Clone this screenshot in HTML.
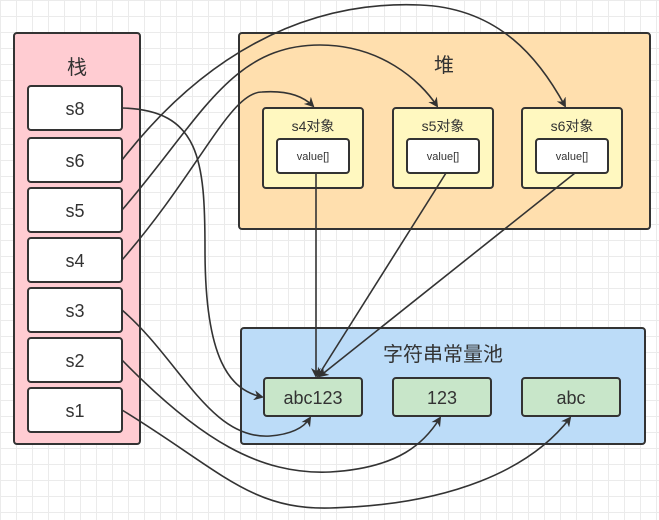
<!DOCTYPE html>
<html><head><meta charset="utf-8"><style>
body{margin:0;width:659px;height:515px;overflow:hidden;background:#fff;
background-image:linear-gradient(#ebebeb 1px,transparent 1px),linear-gradient(90deg,#ebebeb 1px,transparent 1px);background-size:16px 16px;}
svg text{font-family:"Liberation Sans","Noto Sans CJK SC",sans-serif;fill:#333;text-anchor:middle;}
</style></head><body>
<svg width="659" height="515" xmlns="http://www.w3.org/2000/svg">
<defs><marker id="a" markerWidth="10" markerHeight="10" refX="8" refY="5" orient="auto" markerUnits="userSpaceOnUse"><path d="M0,0 L10,5 L0,10 L3,5z" fill="#333"/></marker></defs>
<g stroke="#333" stroke-width="2">
<rect x="14" y="33" width="126" height="411" rx="3" fill="#ffccd2"/>
<rect x="239" y="33" width="411" height="196" rx="3" fill="#ffdfae"/>
<rect x="241" y="328" width="404" height="116" rx="3" fill="#bcdcf8"/>
</g>
<text x="77" y="74" font-size="20">栈</text>
<text x="444" y="72" font-size="20">堆</text>
<text x="443" y="361" font-size="20">字符串常量池</text>
<g stroke="#333" stroke-width="2" fill="#fff">
<rect x="28" y="86" width="94" height="44" rx="3"/>
<rect x="28" y="138" width="94" height="44" rx="3"/>
<rect x="28" y="188" width="94" height="44" rx="3"/>
<rect x="28" y="238" width="94" height="44" rx="3"/>
<rect x="28" y="288" width="94" height="44" rx="3"/>
<rect x="28" y="338" width="94" height="44" rx="3"/>
<rect x="28" y="388" width="94" height="44" rx="3"/>
<g fill="#fff8c0"><rect x="263" y="108" width="100" height="80" rx="3"/><rect x="393" y="108" width="100" height="80" rx="3"/><rect x="522" y="108" width="100" height="80" rx="3"/></g>
<rect x="277" y="139" width="72" height="34" rx="3"/><rect x="407" y="139" width="72" height="34" rx="3"/><rect x="536" y="139" width="72" height="34" rx="3"/>
<g fill="#c8e6c9"><rect x="264" y="378" width="98" height="38" rx="3"/><rect x="393" y="378" width="98" height="38" rx="3"/><rect x="522" y="378" width="98" height="38" rx="3"/></g>
</g>
<g font-size="18"><text x="75" y="115">s8</text><text x="75" y="167">s6</text><text x="75" y="217">s5</text><text x="75" y="267">s4</text><text x="75" y="317">s3</text><text x="75" y="367">s2</text><text x="75" y="417">s1</text>
<text x="313" y="404">abc123</text><text x="442" y="404">123</text><text x="571" y="404">abc</text></g>
<g font-size="14"><text x="313" y="131">s4对象</text><text x="443" y="131">s5对象</text><text x="572" y="131">s6对象</text></g>
<g font-size="11"><text x="313" y="160">value[]</text><text x="443" y="160">value[]</text><text x="572" y="160">value[]</text></g>
<g stroke="#333" stroke-width="1.6" fill="none" marker-end="url(#a)">
<path d="M122,108 C200,110 205,160 205,250 C205,360 230,390 262,397"/>
<path d="M122,160 C200,60 300,0 420,5 C500,8 540,60 565,106"/>
<path d="M122,210 C200,120 230,45 320,45 C380,45 420,80 437,106"/>
<path d="M122,260 C200,170 230,92 262,92 C290,90 305,98 313,106"/>
<path d="M316,173 L316,376"/>
<path d="M446,173 L318,376"/>
<path d="M575,173 L320,376"/>
<path d="M122,310 C180,360 210,440 270,436 C295,434 305,426 310,418"/>
<path d="M122,360 C200,440 260,475 330,472 C400,468 425,442 440,418"/>
<path d="M122,410 C220,470 250,510 330,508 C450,505 530,470 570,418"/>
</g>
</svg>
</body></html>
